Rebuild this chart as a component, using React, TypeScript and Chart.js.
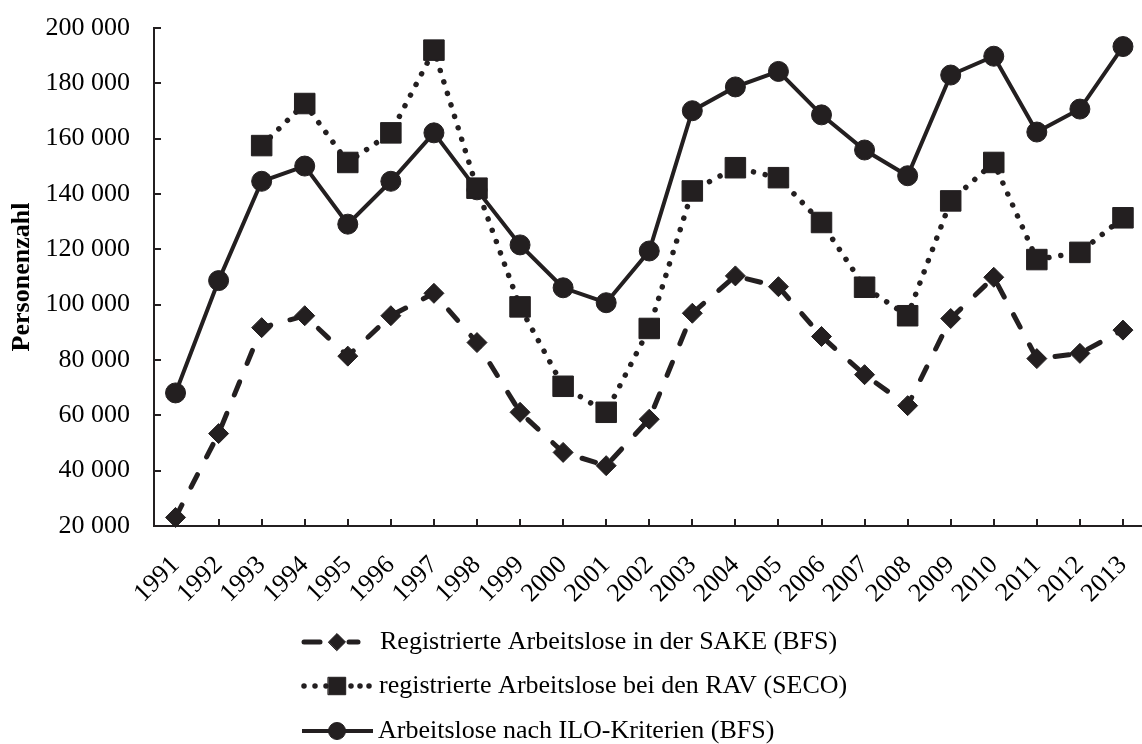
import React, { useEffect, useRef } from 'react';
import { Chart, registerables } from 'chart.js';
import { drawPoint } from 'chart.js/helpers';

Chart.register(...registerables);

const years = ['1991', '1992', '1993', '1994', '1995', '1996', '1997', '1998', '1999', '2000', '2001', '2002', '2003', '2004', '2005', '2006', '2007', '2008', '2009', '2010', '2011', '2012', '2013'];

const sakeValues = [23100, 53400, 91700, 96000, 81400, 96000, 104100, 86300, 61100, 46600, 41800, 58600, 96900, 110400, 106500, 88500, 74700, 63500, 95000, 109900, 80500, 82400, 90800];

const ravValues = [null, null, 157500, 172700, 151400, 162100, 192000, 142100, 99200, 70500, 61100, 91400, 141100, 149500, 145900, 129700, 106300, 96000, 137500, 151400, 116300, 118900, 131400];

const iloValues = [68100, 108700, 144600, 150100, 129100, 144600, 162100, 141500, 121600, 106100, 100700, 119400, 170100, 178700, 184300, 168600, 155900, 146600, 183000, 189800, 162400, 170700, 193300];

const seriesLabels = [
  'Registrierte Arbeitslose in der SAKE (BFS)',
  'registrierte Arbeitslose bei den RAV (SECO)',
  'Arbeitslose nach ILO-Kriterien (BFS)',
];

const yTickValues = [20000, 40000, 60000, 80000, 100000, 120000, 140000, 160000, 180000, 200000];

const yTitle = 'Personenzahl';

const INK = '#231f20';
const FONT = "'Liberation Serif', 'Times New Roman', serif";

function formatThousands(v: number): string {
  return String(v).replace(/\B(?=(\d{3})+(?!\d))/g, ' ');
}

// legend layout: row y, sample line pieces, dots, text x
const legendRows = [
  { y: 642, pieces: [[304, 320], [349, 358]], dots: [] as number[], xt: 380 },
  { y: 686, pieces: [] as number[][], dots: [304, 315, 326, 351, 360, 369], xt: 379 },
  { y: 731, pieces: [[302, 373]], dots: [] as number[], xt: 378 },
];

const stackedLegend = {
  id: 'stackedLegend',
  afterDraw(chart: any) {
    const ctx = chart.ctx as CanvasRenderingContext2D;
    const xm = 337;
    chart.data.datasets.forEach((ds: any, i: number) => {
      const row = legendRows[i];
      const y = row.y;
      ctx.save();
      ctx.strokeStyle = ds.borderColor;
      ctx.fillStyle = ds.borderColor;
      ctx.lineWidth = ds.borderWidth;
      ctx.lineCap = i === 2 ? 'butt' : 'round';
      ctx.setLineDash([]);
      row.pieces.forEach(([a, b]) => {
        ctx.beginPath();
        ctx.moveTo(a, y);
        ctx.lineTo(b, y);
        ctx.stroke();
      });
      row.dots.forEach((dx) => {
        ctx.beginPath();
        ctx.arc(dx, y, ds.borderWidth / 2, 0, Math.PI * 2);
        ctx.fill();
      });
      ctx.fillStyle = ds.pointBackgroundColor;
      ctx.strokeStyle = ds.pointBorderColor;
      ctx.lineWidth = ds.pointBorderWidth;
      drawPoint(ctx, { pointStyle: ds.pointStyle, radius: ds.pointRadius * 0.85, rotation: 0, borderWidth: ds.pointBorderWidth }, xm, y);
      ctx.fillStyle = '#000';
      ctx.font = `26px ${FONT}`;
      ctx.textAlign = 'left';
      ctx.textBaseline = 'middle';
      ctx.fillText(ds.label, row.xt, y);
      ctx.restore();
    });
  },
};

export default function App() {
  const canvasRef = useRef<HTMLCanvasElement | null>(null);

  useEffect(() => {
    if (!canvasRef.current) return;
    const chart = new Chart(canvasRef.current, {
      type: 'line',
      data: {
        labels: years,
        datasets: [
          {
            label: seriesLabels[0],
            data: sakeValues,
            borderColor: INK,
            backgroundColor: INK,
            borderWidth: 5,
            borderDash: [14, 20],
            borderCapStyle: 'round',
            pointStyle: 'rectRot',
            pointRadius: 10,
            pointBackgroundColor: INK,
            pointBorderColor: INK,
            pointBorderWidth: 1,
            tension: 0,
            clip: false,
          },
          {
            label: seriesLabels[1],
            data: ravValues,
            borderColor: INK,
            backgroundColor: INK,
            borderWidth: 5.5,
            borderDash: [0.001, 12],
            borderCapStyle: 'round',
            pointStyle: 'rect',
            pointRadius: 14.5,
            pointBackgroundColor: INK,
            pointBorderColor: INK,
            pointBorderWidth: 1,
            tension: 0,
            clip: false,
          },
          {
            label: seriesLabels[2],
            data: iloValues,
            borderColor: INK,
            backgroundColor: INK,
            borderWidth: 4,
            borderDash: [],
            borderCapStyle: 'butt',
            pointStyle: 'circle',
            pointRadius: 10,
            pointBackgroundColor: INK,
            pointBorderColor: INK,
            pointBorderWidth: 1,
            tension: 0,
            clip: false,
          },
        ] as any,
      },
      options: {
        responsive: false,
        animation: false,
        events: [],
        layout: { padding: { top: 28, right: 7, left: 0, bottom: 0 } },
        plugins: {
          legend: { display: false },
          tooltip: { enabled: false },
        },
        scales: {
          x: {
            type: 'category',
            offset: true,
            grid: {
              display: true,
              offset: false,
              drawOnChartArea: false,
              drawTicks: true,
              tickLength: -7,
              color: INK,
              lineWidth: 2,
            },
            border: { display: true, color: INK, width: 2 },
            ticks: {
              autoSkip: false,
              minRotation: 45,
              maxRotation: 45,
              padding: 31,
              color: '#000',
              font: { family: FONT, size: 26 },
            },
            afterFit: (s: any) => {
              s.height = 218;
              s.paddingRight = 0;
              s.paddingLeft = 0;
            },
          },
          y: {
            type: 'linear',
            min: 20000,
            max: 200000,
            grid: {
              display: true,
              drawOnChartArea: false,
              drawTicks: true,
              tickLength: -7,
              color: INK,
              lineWidth: 2,
            },
            border: { display: true, color: INK, width: 2 },
            afterBuildTicks: (s: any) => {
              s.ticks = yTickValues.map((v) => ({ value: v }));
            },
            ticks: {
              padding: 31,
              color: '#000',
              font: { family: FONT, size: 26 },
              callback: (v: any) => formatThousands(Number(v)),
            },
            title: {
              display: true,
              text: yTitle,
              color: '#000',
              font: { family: FONT, size: 26, weight: 'bold' },
              padding: { top: 7, bottom: 0 },
            },
            afterFit: (s: any) => {
              s.width = 154;
              s.paddingTop = 0;
              s.paddingBottom = 0;
            },
          },
        },
      } as any,
      plugins: [stackedLegend],
    });
    return () => chart.destroy();
  }, []);

  return (
    <div
      style={{
        position: 'fixed',
        left: 0,
        top: 0,
        width: 1142,
        height: 744,
        overflow: 'hidden',
        background: '#fff',
      }}
    >
      <canvas ref={canvasRef} width={1160} height={744} style={{ display: 'block' }} />
    </div>
  );
}
